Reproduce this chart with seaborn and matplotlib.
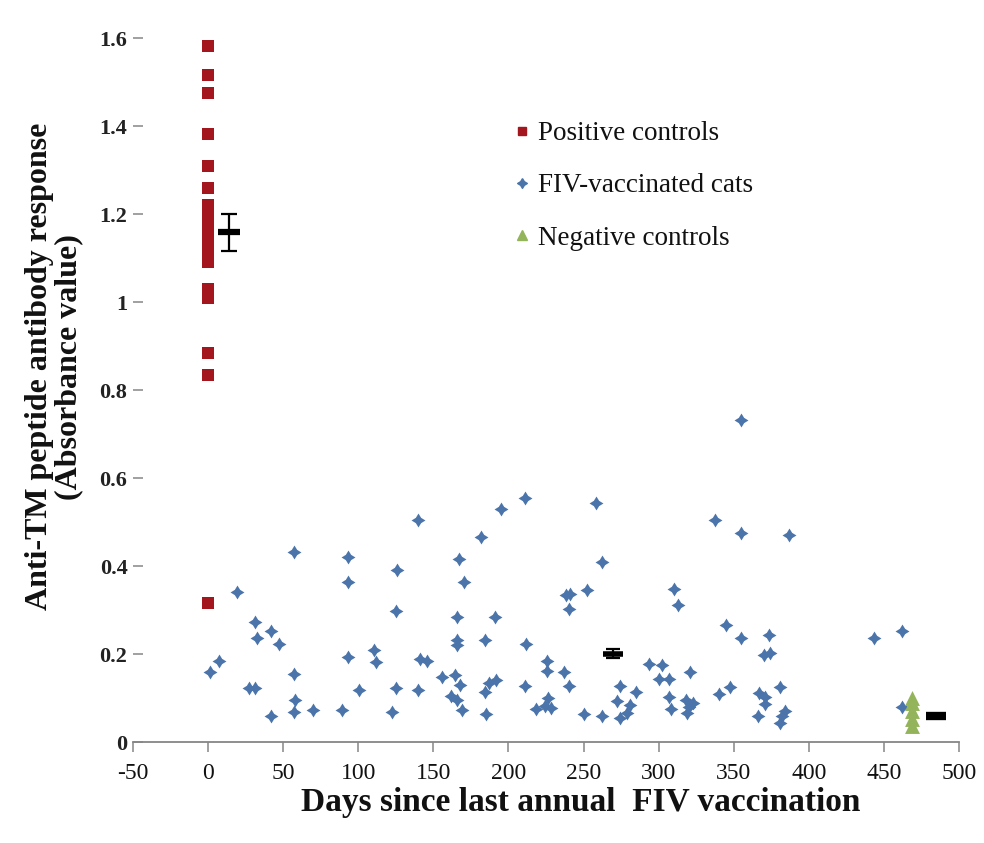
import numpy as np
import pandas as pd
import matplotlib
matplotlib.use("Agg")
import matplotlib.pyplot as plt
from matplotlib.lines import Line2D
import seaborn as sns

# ---------------- data ----------------
pos_days = [0, 0, 0, 0, 0, 0, 0, 0, 0, 0, 0, 0, 0, 0, 0, 0, 0, 0, 0]
pos_vals = [1.582, 1.515, 1.475, 1.381, 1.310, 1.260, 1.22, 1.20, 1.18, 1.16,
            1.14, 1.12, 1.10, 1.09, 1.030, 1.008, 0.883, 0.834, 0.317]

fiv_days = [1.5, 7.5, 19, 27, 31, 31, 32.5, 42, 42, 47, 57, 57, 58, 57, 70, 89,
            93, 93, 93, 100.5, 110.5, 111.6, 122.5, 125, 125, 126,
            140, 141, 146, 140, 155.6, 164.4, 166, 166, 166, 167.5, 162, 165.6,
            169, 167, 170.5, 182, 184.5, 185, 184.5, 187, 192, 191, 195, 211,
            212, 211, 218, 224, 226.5, 228.5, 225.5, 225.5, 237, 240, 238.5,
            241, 240, 252, 250.5, 258.5, 262, 262,
            274.5, 285, 272, 281, 278.7, 274.3, 293.4, 302.5, 300.5, 306.7,
            307, 308, 310, 312.6, 321, 318, 320, 323, 319, 337.5, 345, 340.3,
            347.5, 355, 355, 355, 367, 370.8, 370.8, 366.4, 370.4, 374.2,
            373.6, 380.8, 384, 382, 380.8, 387, 443.4, 462.3, 461.8]
fiv_vals = [0.158, 0.184, 0.341, 0.123, 0.123, 0.272, 0.237, 0.252, 0.060, 0.223,
            0.431, 0.154, 0.095, 0.069, 0.072, 0.072, 0.421, 0.363, 0.193, 0.118,
            0.208, 0.182, 0.069, 0.298, 0.123, 0.391,
            0.505, 0.188, 0.183, 0.119, 0.148, 0.153, 0.283, 0.231, 0.220, 0.129,
            0.105, 0.095, 0.073, 0.416, 0.364, 0.465, 0.232, 0.063, 0.114, 0.135,
            0.140, 0.283, 0.529, 0.554, 0.223, 0.128, 0.074, 0.082, 0.100, 0.077,
            0.184, 0.162, 0.159, 0.127, 0.335, 0.336, 0.302, 0.346, 0.064, 0.544,
            0.410, 0.059,
            0.128, 0.114, 0.094, 0.085, 0.067, 0.054, 0.178, 0.174, 0.144, 0.143,
            0.102, 0.075, 0.347, 0.312, 0.158, 0.095, 0.080, 0.089, 0.065, 0.505,
            0.267, 0.109, 0.125, 0.731, 0.475, 0.237, 0.112, 0.103, 0.087, 0.060,
            0.197, 0.203, 0.243, 0.124, 0.071, 0.059, 0.043, 0.470, 0.237, 0.252,
            0.079]

neg_days = [469, 469, 469, 469, 469]
neg_vals = [0.100, 0.088, 0.070, 0.052, 0.036]

# group means +/- error (as drawn)
mean_days = [14, 269.5, 485]
mean_vals = [1.158, 0.201, 0.059]
mean_errs = [0.041, 0.011, 0.004]

series_labels = ["Positive controls", "FIV-vaccinated cats", "Negative controls"]
x_ticks = [-50, 0, 50, 100, 150, 200, 250, 300, 350, 400, 450, 500]
y_ticks = [0, 0.2, 0.4, 0.6, 0.8, 1.0, 1.2, 1.4, 1.6]
y_tick_labels = ["0", "0.2", "0.4", "0.6", "0.8", "1", "1.2", "1.4", "1.6"]

# ---------------- style ----------------
RED = "#A3161E"
BLUE = "#4A74AA"
GREEN = "#93B45A"
AXIS_GREY = "#868686"

sns.set_theme(style="white")
plt.rcParams["font.family"] = ["Liberation Serif", "DejaVu Serif"]

diamond = [(0, 1), (0.38, 0.38), (1, 0), (0.38, -0.38), (0, -1),
           (-0.38, -0.38), (-1, 0), (-0.38, 0.38), (0, 1)]

fig = plt.figure(figsize=(9.84, 8.43), dpi=100)
ax = fig.add_axes([0.1352, 0.1198, 0.8394, 0.8351])

df_pos = pd.DataFrame({"days": pos_days, "val": pos_vals})
df_fiv = pd.DataFrame({"days": fiv_days, "val": fiv_vals})
df_neg = pd.DataFrame({"days": neg_days, "val": neg_vals})

sns.scatterplot(data=df_fiv, x="days", y="val", marker=diamond, s=100,
                color=BLUE, linewidth=0, ax=ax, legend=False, zorder=3)
sns.scatterplot(data=df_pos, x="days", y="val", marker="s", s=80,
                color=RED, linewidth=0, ax=ax, legend=False, zorder=3)
sns.scatterplot(data=df_neg, x="days", y="val", marker="^", s=115,
                color=GREEN, linewidth=0, ax=ax, legend=False, zorder=3)

# mean +/- error markers: thin error bar with caps, thick dash for the mean
cap_sizes = [6, 5, 4]
bar_sizes = [16, 14, 15]
bar_widths = [4.5, 4.0, 6.0]
for d, v, e, cs, bs, bw in zip(mean_days, mean_vals, mean_errs,
                               cap_sizes, bar_sizes, bar_widths):
    ax.errorbar([d], [v], yerr=[e], fmt="none", ecolor="black",
                elinewidth=1.6, capsize=cs, capthick=1.6, zorder=4)
    ax.plot([d], [v], marker="_", color="black", markersize=bs,
            markeredgewidth=bw, linestyle="none", zorder=5)

ax.set_xlim(-50, 500)
ax.set_ylim(0, 1.6)
ax.set_xticks(x_ticks)
ax.set_xticklabels([str(t) for t in x_ticks])
ax.set_yticks(y_ticks)
ax.set_yticklabels(y_tick_labels, fontweight="bold")

for side in ["top", "right", "left"]:
    ax.spines[side].set_visible(False)
ax.spines["bottom"].set_color(AXIS_GREY)
ax.spines["bottom"].set_linewidth(1.3)

ax.tick_params(axis="x", direction="out", length=7, width=1.1, color=AXIS_GREY,
               labelsize=17, pad=8, labelcolor="#111111", bottom=True)
ax.tick_params(axis="y", direction="in", length=7, width=1.1, color=AXIS_GREY,
               labelsize=16, pad=4, labelcolor="#222222", left=True)

ax.set_xlabel("Days since last annual  FIV vaccination", fontsize=24,
              fontweight="bold", color="#111111")
ax.xaxis.set_label_coords(0.542, -0.064)
ax.set_ylabel("Anti-TM peptide antibody response\n(Absorbance value)",
              fontsize=23, fontweight="bold", color="#111111", linespacing=1.0)
ax.yaxis.set_label_coords(-0.060, 0.533)

handles = [
    Line2D([], [], marker="s", linestyle="none", color=RED, markersize=6),
    Line2D([], [], marker=diamond, linestyle="none", color=BLUE, markersize=7),
    Line2D([], [], marker="^", linestyle="none", color=GREEN, markersize=7),
]
leg = ax.legend(handles, series_labels, loc="upper left",
                bbox_to_anchor=(0.448, 0.897), frameon=False, fontsize=19.5,
                handlelength=0.6, handletextpad=0.3, labelspacing=1.0,
                borderaxespad=0)
for t in leg.get_texts():
    t.set_color("#111111")

fig.savefig("out.png", dpi=100)
